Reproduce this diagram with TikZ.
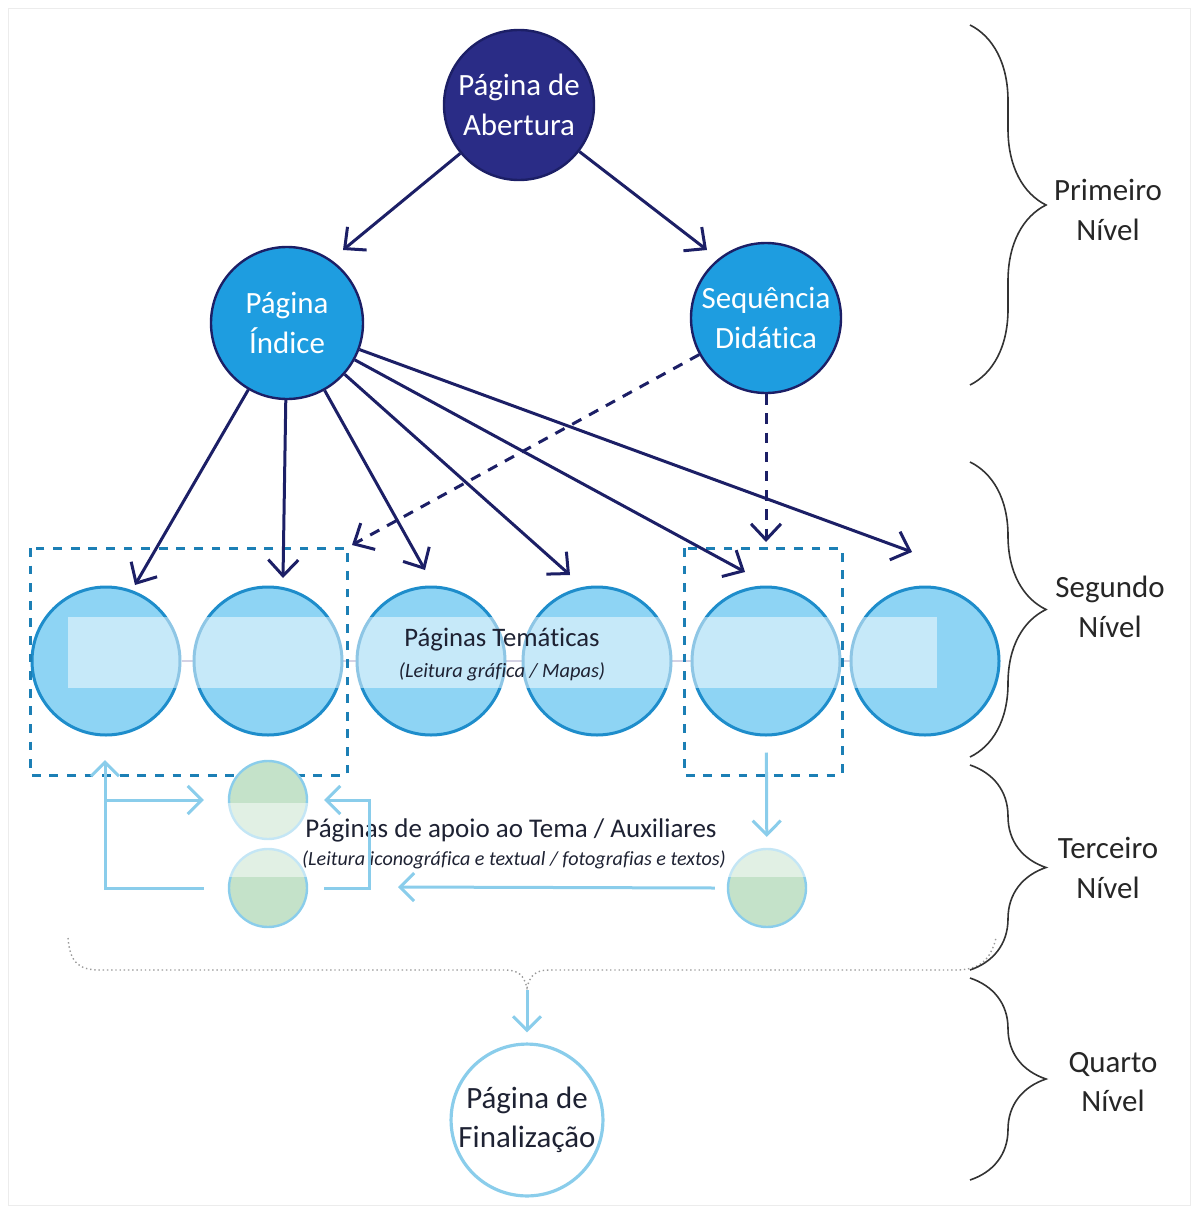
\documentclass[tikz,border=0pt]{standalone}
\usepackage{fontspec}
\setmainfont{Carlito}[Ligatures={NoCommon}]
\usetikzlibrary{arrows.meta,backgrounds,decorations.pathreplacing}
\definecolor{Navy}{HTML}{2A2C86}
\definecolor{NavyDark}{HTML}{1C1F66}
\definecolor{Azure}{HTML}{1E9DE0}
\definecolor{SkyFill}{HTML}{8ED4F4}
\definecolor{SkyEdge}{HTML}{1E8DCB}
\definecolor{BoxTeal}{HTML}{1C7FB5}
\definecolor{LightArrow}{HTML}{8ACDEB}
\definecolor{Mint}{HTML}{C4E2C9}
\definecolor{Link}{HTML}{A9A6C9}
\definecolor{TextDark}{HTML}{1E2233}

\begin{document}
\begin{tikzpicture}[x=0.25mm,y=-0.25mm,
    bigtext/.style={font=\fontsize{22}{28}\selectfont,align=center},
    toppage/.style={circle,draw=NavyDark,line width=0.6mm,inner sep=0pt,
      text=white,bigtext},
    themepage/.style={circle,draw=SkyEdge,fill=SkyFill,line width=0.75mm,
      minimum size=37mm,inner sep=0pt},
    auxpage/.style={circle,draw=LightArrow,fill=Mint,line width=0.6mm,
      minimum size=19.5mm,inner sep=0pt},
    navyarrow/.style={draw=NavyDark,line width=0.75mm,
      -{Straight Barb[length=4mm,width=7.5mm]}},
    navydash/.style={navyarrow,dash pattern=on 2.6mm off 2.2mm},
    lightarrow/.style={draw=LightArrow,line width=0.75mm,
      -{Straight Barb[length=3.5mm,width=7mm]}},
    dashbox/.style={draw=BoxTeal,line width=0.75mm,dash pattern=on 2.2mm off 2.2mm},
    levelbrace/.style={draw=black!80,line width=0.4mm,decorate,
      decoration={brace,amplitude=19mm}},
    leveltext/.style={text=black!85,bigtext}]
  \useasboundingbox (0,0) rectangle (1196,1211);
  \draw[gray!15,line width=0.2mm] (8,8) rectangle (1190,1205);

  % first level
  \node[toppage,fill=Navy,minimum size=37.5mm] (ab) at (519,105) {Página de\\Abertura};
  \node[toppage,fill=Azure,minimum size=38mm] (ind) at (287,323) {Página\\Índice};
  \node[toppage,fill=Azure,minimum size=37.5mm] (seq) at (766,318) {Sequência\\Didática};
  \coordinate (a1) at (343,250);
  \coordinate (a2) at (707,250);
  \draw[navyarrow] (ab) -- (a1);
  \draw[navyarrow] (ab) -- (a2);

  % second level
  \node[themepage] (t1) at (106,661) {};
  \node[themepage] (t2) at (268,661) {};
  \node[themepage] (t3) at (431,661) {};
  \node[themepage] (t4) at (597,661) {};
  \node[themepage] (t5) at (766,661) {};
  \node[themepage] (t6) at (925,661) {};
  \begin{scope}[on background layer]
    \draw[Link,line width=0.5mm] (t1) -- (t6);
  \end{scope}
  \fill[white,opacity=0.5] (68,617) rectangle (937,688);
  \node[text=TextDark,font=\fontsize{19}{23}\selectfont] (tem1) at (502,640) {Páginas Temáticas};
  \node[text=TextDark,font=\fontsize{14.5}{18}\selectfont\itshape] (tem2) at (502,672) {(Leitura gráfica / Mapas)};
  \draw[dashbox] (30,548) rectangle (347,775);
  \draw[dashbox] (684,548) rectangle (842,775);

  \coordinate (p1) at (135,585);
  \coordinate (p2) at (283,578);
  \coordinate (p3) at (425,570);
  \coordinate (p4) at (570,575);
  \coordinate (p5) at (745,572);
  \coordinate (p6) at (912,552);
  \foreach \p in {p1,p2,p3,p4,p5,p6}
    \draw[navyarrow] (ind) -- (\p);
  \coordinate (q1) at (352,545);
  \coordinate (q2) at (766,542);
  \draw[navydash] (seq) -- (q1);
  \draw[navydash] (seq) -- (q2);

  % third level
  \node[auxpage] (s1) at (268,800) {};
  \node[auxpage] (s2) at (268,888) {};
  \node[auxpage] (s3) at (767,888) {};
  \fill[white,opacity=0.5] (225,803) rectangle (812,877);
  \node[text=TextDark,font=\fontsize{19.2}{23}\selectfont] (aux1) at (511,830) {Páginas de apoio ao Tema / Auxiliares};
  \node[text=TextDark,font=\fontsize{14.3}{17}\selectfont\itshape] (aux2) at (514,860) {(Leitura iconográfica e textual / fotografias e textos)};

  \coordinate (v0) at (105,888);
  \coordinate (v1) at (105,760);
  \coordinate (v2) at (105,800);
  \draw[lightarrow,{Straight Barb[length=3.5mm,width=7mm]}-] (v1) -- (v0) -- ([xshift=-6mm]s2.west);
  \draw[lightarrow] (v2) -- ([xshift=-6mm]s1.west);
  \draw[lightarrow] ([xshift=4mm]s2.east) -- ++(45,0) |- ([xshift=4mm]s1.east);
  \draw[lightarrow,shorten <=4mm,shorten >=2.75mm] (t5) -- (s3);
  \coordinate (w1) at (398,887);
  \draw[lightarrow] ([xshift=-3mm]s3.west) -- (w1);

  % fourth level
  \draw[gray!80,line width=0.35mm,dotted] (68,938) .. controls (70,962) and (78,970) .. (100,970)
    -- (505,970) .. controls (518,970) and (524,975) .. (527,988)
    .. controls (530,975) and (536,970) .. (549,970) -- (955,970)
    .. controls (978,970) and (990,962) .. (996,938);
  \node[circle,draw=LightArrow,fill=white,line width=0.8mm,minimum size=36.5mm,
    inner sep=0pt,text=TextDark,bigtext] (fin) at (527,1120) {Página de\\Finalização};
  \coordinate (b1) at (527,990);
  \draw[lightarrow,shorten >=2.5mm] (b1) -- (fin);

  % levels
  \draw[levelbrace] (970,25) -- (970,385);
  \draw[levelbrace] (970,462) -- (970,757);
  \draw[levelbrace] (970,765) -- (970,970);
  \draw[levelbrace] (970,978) -- (970,1180);
  \node[leveltext] (lv1) at (1108,210) {Primeiro\\Nível};
  \node[leveltext] (lv2) at (1110,607) {Segundo\\Nível};
  \node[leveltext] (lv3) at (1108,868) {Terceiro\\Nível};
  \node[leveltext] (lv4) at (1113,1082) {Quarto\\Nível};
\end{tikzpicture}
\end{document}
